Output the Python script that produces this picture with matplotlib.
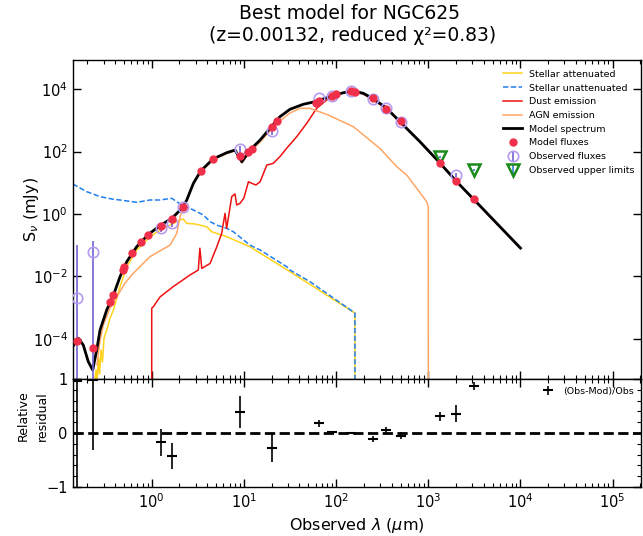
import matplotlib
matplotlib.use('Agg')
import matplotlib.pyplot as plt
from matplotlib.ticker import AutoMinorLocator, FixedLocator, NullLocator, LogLocator

# ---------------- data ----------------
# Model spectrum (black)
model_wl = [0.139, 0.160, 0.181, 0.205, 0.229, 0.253, 0.275, 0.325, 0.384, 0.453, 0.536,
            0.687, 0.918, 1.23, 1.65, 2.17, 2.40, 2.83, 3.40, 4.62, 6.5, 8.0, 9.5, 11.6,
            15.0, 19.2, 24.6, 31.6, 44, 59, 86, 120, 154, 197, 253, 354, 493, 813,
            1340, 2000, 3130, 10000]
model_sed = [5.6e-5, 1.04e-4, 6.3e-5, 1.85e-5, 1.0e-5, 4.4e-5, 1.91e-4, 8.4e-4, 2.5e-3, 9.8e-3,
             0.0296, 0.0895, 0.22, 0.425, 0.72, 1.62, 2.81, 9.6, 23.9, 58, 92, 112, 47, 112,
             235, 558, 1315, 2270, 3280, 3970, 5750, 7720, 8750, 7400, 4950, 2440, 908, 207,
             43, 11.4, 2.9, 0.081]

# Stellar unattenuated (blue dashed)
unatt_wl = [0.139, 0.197, 0.275, 0.384, 0.453, 0.687, 0.958, 1.23, 1.65, 2.2, 2.6, 3.63,
            4.29, 5.07, 6.5, 7.67, 11.6, 15.0, 29.1, 31.6, 52, 160, 161]
unatt_sed = [9.2, 5.2, 3.6, 2.96, 2.81, 2.37, 2.81, 2.81, 3.18, 1.8, 1.52, 0.93,
             0.57, 0.44, 0.348, 0.271, 0.101, 0.070, 0.0205, 0.016, 6.8e-3, 6.7e-4, 1e-12]

# Stellar attenuated (gold)
att_wl = [0.237, 0.249, 0.255, 0.265, 0.272, 0.282, 0.292, 0.304, 0.325, 0.353, 0.384,
          0.453, 0.536, 0.687, 0.958, 1.23, 1.58, 2.03, 2.2, 2.40, 2.95, 3.95, 4.47,
          6.5, 11.6, 31.6, 160, 161]
att_sed = [3.3e-6, 1.0e-5, 4.1e-6, 2.4e-5, 7.4e-6, 4.4e-5, 1.8e-5, 1.06e-4, 1.9e-4, 4.6e-4,
           8.4e-4, 4.7e-3, 0.0205, 0.070, 0.187, 0.307, 0.44, 0.64, 0.69, 0.50, 0.48,
           0.39, 0.27, 0.187, 0.0895, 0.0142, 6.7e-4, 1e-12]

# AGN emission (orange)
agn_wl = [0.255, 0.275, 0.299, 0.353, 0.417, 0.513, 0.632, 0.958, 1.58, 1.87, 2.03, 2.2,
          2.83, 3.40, 4.62, 6.5, 8.0, 9.5, 11.6, 15.0, 19.2, 24.6, 31.6, 40.6, 52, 82,
          154, 300, 454, 583, 961, 1000, 1001]
agn_sed = [1.45e-5, 9.1e-5, 2.8e-4, 9.7e-4, 2.2e-3, 6.1e-3, 0.0126, 0.043, 0.101, 0.24,
           0.82, 1.71, 9.2, 22, 54, 87, 105, 43, 97, 203, 457, 957, 1730, 2440, 2440, 1490,
           628, 125, 33, 17.8, 2.48, 1.71, 1e-12]

# Dust emission (red)
dust_wl = [0.999, 1.0, 1.04, 1.23, 1.71, 2.6, 3.2, 3.33, 3.49, 4.29, 5.07, 5.74, 6.24,
           6.5, 7.38, 8.0, 8.36, 9.07, 10.0, 11.2, 12.2, 13.5, 15.0, 17.7, 20.8, 24.6,
           29.1, 37.4, 48, 61.6, 79, 101, 130, 154, 197, 253, 354, 493, 813, 1340,
           3130, 10000]
dust_sed = [1e-12, 9.5e-4, 1.07e-3, 2.2e-3, 4.7e-3, 0.0111, 0.016, 0.08, 0.018, 0.026,
            0.0875, 0.24, 1.05, 0.348, 3.6, 4.4, 1.94, 2.2, 3.26, 10.8, 9.6, 8.5, 10.8,
            37, 42, 69, 128, 300, 807, 2440, 4500, 6520, 8130, 8320, 7020, 4500, 2320,
            869, 199, 41.6, 2.81, 0.078]

# Model fluxes (red dots)
filt_wl = [0.153, 0.231, 0.353, 0.383, 0.485, 0.504, 0.616, 0.771, 0.912, 1.25, 1.65, 2.17,
           3.4, 4.6, 9.0, 11.0, 12.1, 20.0, 23.0, 60, 65, 90, 100, 145, 160, 250, 350, 500,
           1340, 2000, 3130]
filt_mod = [8.7e-5, 5.1e-5, 1.48e-3, 2.54e-3, 0.016, 0.0196, 0.055, 0.124, 0.217, 0.425,
            0.71, 1.71, 23.9, 58, 72, 99, 121, 600, 955, 3530, 4190, 5930, 7000, 8750,
            7950, 5210, 2290, 953, 42.2, 11.2, 2.96]

# Observed fluxes
obs_wl = [0.153, 0.231, 1.25, 1.65, 2.17, 9.0, 20.0, 65, 90, 145, 250, 350, 500, 2000]
obs_flux = [2.1e-3, 0.060, 0.363, 0.50, 1.71, 121, 468, 5100, 6050, 8750, 4740, 2440, 908, 17.8]
obs_err = [0.098, 0.076, 0.09, 0.12, 0.03, 35, 124, 300, 60, 90, 240, 150, 55, 3]

# Observed upper limits
uplim_wl = [1340, 3130]
uplim_flux = [68.7, 25.7]
uplim_err = [6, 2.5]

# Relative residuals (Obs-Mod)/Obs
res_wl = [0.153, 0.231, 1.25, 1.65, 2.17, 9.0, 20.0, 65, 90, 145, 250, 350, 500, 1340, 2000, 3130]
res_val = [0.96, 0.98, -0.17, -0.42, 0.0, 0.39, -0.28, 0.18, 0.015, 0.0, -0.11, 0.05, -0.05,
           0.31, 0.36, 0.875]
res_err = [47, 1.3, 0.25, 0.24, 0.01, 0.29, 0.265, 0.06, 0.01, 0.01, 0.05, 0.06, 0.06,
           0.08, 0.16, 0.07]

# axis ticks
x_major = [1, 10, 100, 1000, 10000, 100000]
y_major = [1e-4, 1e-2, 1, 1e2, 1e4]
res_ticks = [-1, 0, 1]

# ---------------- figure ----------------
fig = plt.figure(figsize=(6.43, 5.36), dpi=100)
ax1 = fig.add_axes([0.1131, 0.2929, 0.8838, 0.5952])
ax2 = fig.add_axes([0.1131, 0.0914, 0.8838, 0.2015], sharex=ax1)

c_att = '#ffd21a'
c_unatt = '#1f7fef'
c_dust = '#ee1111'
c_agn = '#ffa665'
c_modpt = '#f0304a'
c_obs = '#b59cf0'
c_obsbar = '#7262d4'

l_att, = ax1.plot(att_wl, att_sed, color=c_att, lw=1.1, label='Stellar attenuated', zorder=2)
l_unatt, = ax1.plot(unatt_wl, unatt_sed, color=c_unatt, lw=1.1, ls='--', dashes=(3.5, 1.6),
                    label='Stellar unattenuated', zorder=2)
l_dust, = ax1.plot(dust_wl, dust_sed, color=c_dust, lw=1.1, label='Dust emission', zorder=2)
l_agn, = ax1.plot(agn_wl, agn_sed, color=c_agn, lw=1.1, label='AGN emission', zorder=2)
l_mod, = ax1.plot(model_wl, model_sed, color='k', lw=2, label='Model spectrum', zorder=3)

l_pts, = ax1.plot(filt_wl, filt_mod, ls='none', marker='o', ms=5, color=c_modpt, mec=c_modpt,
                  label='Model fluxes', zorder=5)
e_obs = ax1.errorbar(obs_wl, obs_flux, yerr=obs_err, ls='none', marker='o', ms=7.5,
                     mfc='none', mec=c_obs, mew=1.2, ecolor=c_obsbar, elinewidth=1.2,
                     capsize=0, label='Observed fluxes', zorder=4)
e_up = ax1.errorbar(uplim_wl, uplim_flux, yerr=uplim_err, ls='none', marker='v', ms=8,
                    mfc='none', mec='#1a8a1a', mew=1.8, ecolor='#2f7fd8', elinewidth=1.2,
                    capsize=0, label='Observed upper limits', zorder=4)

ax1.set_xscale('log')
ax1.set_yscale('log')
ax1.set_xlim(0.139, 2.03e5)
ax1.set_ylim(5.15e-6, 8.63e4)
ax1.yaxis.set_major_locator(FixedLocator(y_major))
ax1.yaxis.set_minor_locator(NullLocator())
ax1.xaxis.set_major_locator(FixedLocator(x_major))
ax1.xaxis.set_minor_locator(LogLocator(base=10, subs=range(2, 10), numticks=20))
ax1.set_ylabel(r'S$_\nu$ (mJy)', fontsize=11.5)
ax1.yaxis.set_label_coords(-0.056, 0.53)

handles = [l_att, l_unatt, l_dust, l_agn, l_mod, l_pts, e_obs, e_up]
ax1.legend(handles=handles, loc='upper right', fontsize=6.8, frameon=False,
           handlelength=2.0, handletextpad=0.7, labelspacing=0.5,
           bbox_to_anchor=(1.0, 0.99), borderaxespad=0.3)

# residual panel
ax2.axhline(0, color='k', lw=2, ls='--', zorder=1)
e_res = ax2.errorbar(res_wl, res_val, yerr=res_err, ls='none', marker='_', ms=7, mew=1.5,
                     color='k', elinewidth=1.2, capsize=0, label='(Obs-Mod)/Obs', zorder=3)
ax2.set_ylim(-1, 1)
ax2.set_yticks(res_ticks)
ax2.yaxis.set_minor_locator(AutoMinorLocator(5))
ax2.set_xlabel(r'Observed $\lambda$ ($\mu$m)', fontsize=11.5)
ax2.set_ylabel('Relative\nresidual', fontsize=9, linespacing=1.6)
ax2.yaxis.set_label_coords(-0.042, 0.66)
ax2.legend(loc='upper right', fontsize=6.8, frameon=False, handlelength=1.2,
           handletextpad=1.0, borderaxespad=0.4)

for ax in (ax1, ax2):
    ax.tick_params(which='both', direction='in', top=True, right=True, labelsize=10.5)
    ax.tick_params(which='major', length=6, width=1)
    ax.tick_params(which='minor', length=3, width=0.8)
    for sp in ax.spines.values():
        sp.set_linewidth(1.0)
ax1.tick_params(labelbottom=False)

fig.suptitle('Best model for NGC625\n (z=0.00132, reduced χ²=0.83)', x=0.544, y=0.992,
             va='top', fontsize=13.5)

fig.savefig('out.png', dpi=100)
